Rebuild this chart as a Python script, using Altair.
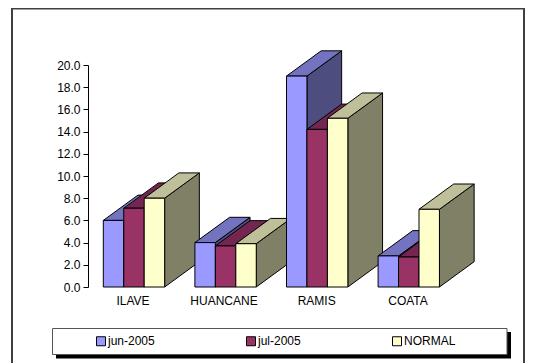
import altair as alt
import pandas as pd

categories = ["ILAVE", "HUANCANE", "RAMIS", "COATA"]
series = ["jun-2005", "jul-2005", "NORMAL"]
jun_2005 = [6.0, 4.0, 19.0, 2.8]
jul_2005 = [7.1, 3.7, 14.2, 2.7]
normal = [8.0, 3.9, 15.2, 7.0]
y_ticks = [0, 2, 4, 6, 8, 10, 12, 14, 16, 18, 20]
front_colors = ["#9999FF", "#993366", "#FFFFCC"]
top_colors = ["#7373BF", "#732650", "#BFBF99"]
side_colors = ["#4D4D80", "#4D1A33", "#808066"]

# layout (page pixels); the picture can use at most 517 px of width
PAD_L, PAD_T = 80, 57
W, H = 437, 222
ORIGIN_X, ORIGIN_Y = PAD_L + 8, PAD_T + 8
UNIT = H / 20
FONT = "Liberation Sans"


def vx(px):
    return px - ORIGIN_X


def vy(px):
    return (ORIGIN_Y + H - px) / UNIT


y_axis = alt.Axis(
    values=y_ticks, format=".1f", title=None, grid=False, zindex=1,
    tickSize=5, tickColor="#000000", domainColor="#000000",
    labelFont=FONT, labelFontSize=12, labelColor="#000000", labelPadding=3,
)
x_scale = alt.Scale(domain=[0, W], nice=False, zero=False)
y_scale = alt.Scale(domain=[0, 20], nice=False, zero=False)
X = lambda f: alt.X(f, type="quantitative", scale=x_scale, axis=None)
Y = lambda f: alt.Y(f, type="quantitative", scale=y_scale, axis=y_axis)

layers = []


def box(x0, x1, y0, y1, **mark):
    df = pd.DataFrame([{"x": vx(x0), "x2": vx(x1), "y": vy(y0), "y2": vy(y1)}])
    return alt.Chart(df).mark_rect(**mark).encode(
        x=X("x"), x2=alt.X2("x2"), y=Y("y"), y2=alt.Y2("y2")
    )


# outer frame (open at the bottom of the picture)
layers.append(box(12, 524, 8.5, 380, fill="#FFFFFF", fillOpacity=0, stroke="#404040", strokeWidth=2))

# legend box and its shadow
layers.append(box(56, 511, 332, 358.5, fill="#000000", stroke="#000000", strokeWidth=0))
layers.append(box(52.5, 507, 328.5, 354.5, fill="#FFFFFF", stroke="#555555", strokeWidth=1))

# 3-D bars, painted back to front in series order
BAR_START, GROUP_STEP, BAR_W = 103.3, 91.6, 20.45
DX, DV = 34.7, 25.3 / UNIT
values = [jun_2005, jul_2005, normal]
for c in range(len(categories)):
    for s in range(len(series)):
        v = values[s][c]
        x0 = vx(BAR_START + GROUP_STEP * c + BAR_W * s)
        x1 = x0 + BAR_W
        side = pd.DataFrame({"x": [x1, x1 + DX], "y": [v, v + DV], "y2": [0, DV]})
        layers.append(
            alt.Chart(side).mark_area(fill=side_colors[s], stroke="#000000", strokeWidth=1).encode(
                x=X("x"), y=Y("y"), y2=alt.Y2("y2")
            )
        )
        top = pd.DataFrame({"x": [x0, x0 + DX], "x2": [x1, x1 + DX], "y": [v, v + DV]})
        layers.append(
            alt.Chart(top).mark_area(orient="horizontal", fill=top_colors[s], stroke="#000000", strokeWidth=1).encode(
                x=X("x"), x2=alt.X2("x2"), y=Y("y")
            )
        )
        front = pd.DataFrame([{"x": x0, "x2": x1, "y": v, "y2": 0, "series": series[s]}])
        layers.append(
            alt.Chart(front).mark_rect(stroke="#000000", strokeWidth=1).encode(
                x=X("x"), x2=alt.X2("x2"), y=Y("y"), y2=alt.Y2("y2"),
                color=alt.Color(
                    "series:N",
                    scale=alt.Scale(domain=series, range=front_colors),
                    legend=alt.Legend(
                        title=None, orient="none", legendX=7, legendY=270, columns=3,
                        direction="horizontal",
                        columnPadding=89, symbolType="square", symbolSize=81,
                        symbolStrokeColor="#000000", symbolStrokeWidth=1, symbolOpacity=1,
                        labelFont=FONT, labelFontSize=12, labelColor="#000000", labelOffset=1,
                        values=series,
                    ),
                ),
            )
        )

# category labels
label_x = [133, 224, 316.7, 408]
labels = pd.DataFrame({"x": [vx(p) for p in label_x], "y": [vy(301)] * 4, "t": categories})
layers.append(
    alt.Chart(labels).mark_text(font=FONT, fontSize=12, color="#000000", baseline="middle", align="center").encode(
        x=X("x"), y=Y("y"), text="t:N"
    )
)

chart = (
    alt.layer(*layers)
    .properties(
        width=W,
        height=H,
        autosize=alt.AutoSizeParams(type="none"),
        padding={"left": PAD_L, "top": PAD_T, "right": 0, "bottom": 76},
        background="#FFFFFF",
    )
    .configure_view(stroke=None)
)
chart.save("out.html", embed_options={"renderer": "svg", "actions": False})
